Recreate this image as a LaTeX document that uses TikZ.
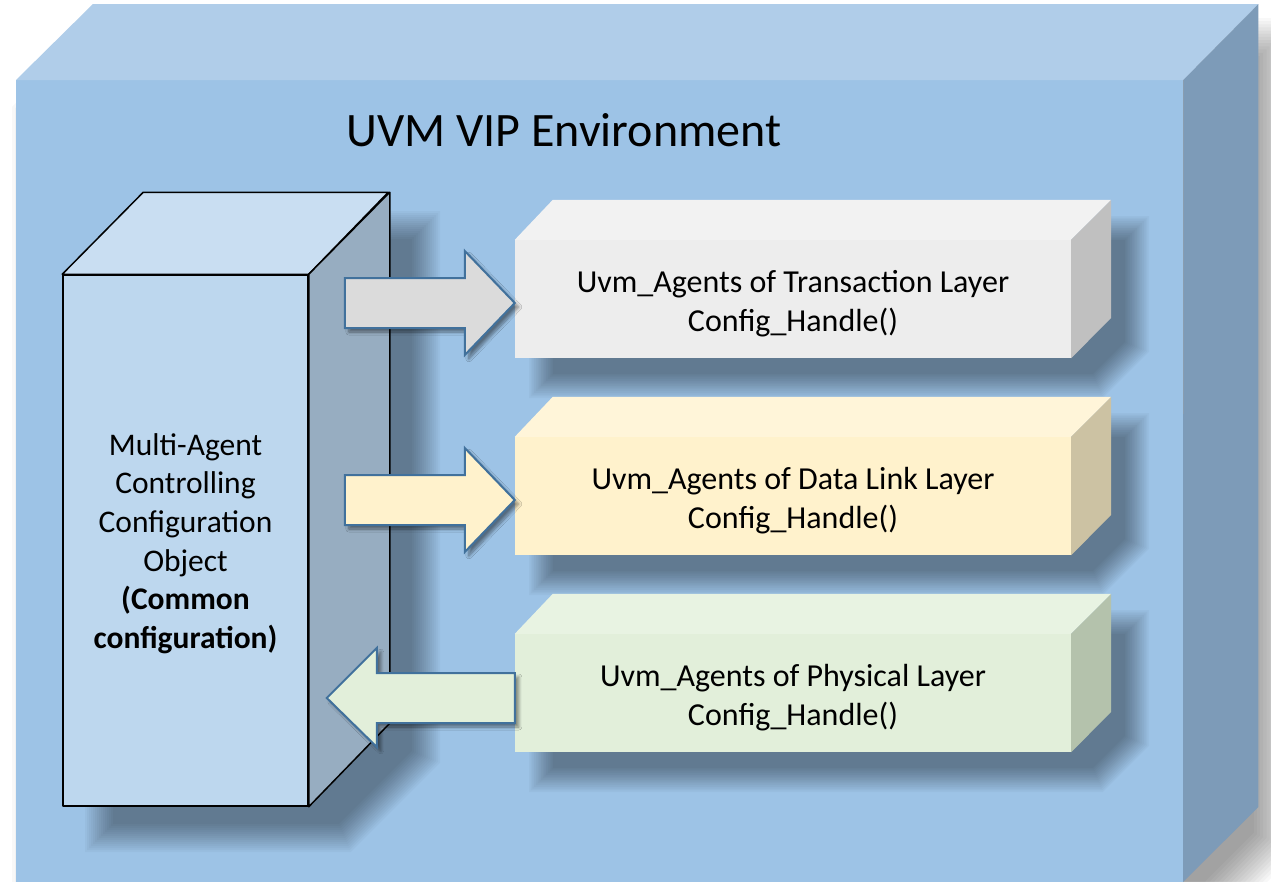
\documentclass[tikz,border=0pt]{standalone}
\usepackage{fontspec}
\setmainfont{Carlito}
\usetikzlibrary{shadows.blur,calc}
\definecolor{envtop}{HTML}{B0CDE9}
\definecolor{envfront}{HTML}{9DC3E6}
\definecolor{envside}{HTML}{7D9BB8}
\definecolor{macfront}{HTML}{BDD7EE}
\definecolor{mactop}{HTML}{C9DEF2}
\definecolor{macside}{HTML}{97ADC1}
\definecolor{aFront}{HTML}{EDEDED}
\definecolor{aTop}{HTML}{F2F2F2}
\definecolor{aSide}{HTML}{C0C0C0}
\definecolor{aArrow}{HTML}{DBDBDB}
\definecolor{bFront}{HTML}{FFF2CC}
\definecolor{bTop}{HTML}{FFF5D9}
\definecolor{bSide}{HTML}{CCC2A3}
\definecolor{cFront}{HTML}{E2EFDA}
\definecolor{cTop}{HTML}{E8F3E2}
\definecolor{cSide}{HTML}{B4C2AC}
\definecolor{arrowline}{HTML}{41719C}
% soft shadow of a bevelled silhouette: L T R B bevel dx dy blur
\newcommand\softshadow[8]{%
  \foreach \i in {0,...,14} {%
    \pgfmathsetmacro\ee{-(#8)/2+(#8)*\i/14}%
    \fill[black, fill opacity=0.026]
      ({#1+#6-\ee},{#2+#7+#5-0.414*\ee}) -- ({#1+#6+#5-0.414*\ee},{#2+#7-\ee}) --
      ({#3+#6+\ee},{#2+#7-\ee}) -- ({#3+#6+\ee},{#4+#7-#5+0.414*\ee}) --
      ({#3+#6-#5+0.414*\ee},{#4+#7+\ee}) -- ({#1+#6-\ee},{#4+#7+\ee}) -- cycle;
  }%
}
\tikzset{
  layerbox/.style={rectangle, inner sep=0pt, minimum width=556pt, minimum height=118pt,
    align=center, font=\fontsize{32}{39}\selectfont},
  blockarrow/.style={draw=arrowline, line width=2pt, line join=miter,
    blur shadow={shadow xshift=4pt, shadow yshift=-4pt, shadow blur radius=3pt, shadow blur steps=8, shadow opacity=45}},
  cubeline/.style={draw=black, line width=1.5pt, line join=round}
}
\begin{document}
\begin{tikzpicture}[x=1pt,y=-1pt]
\useasboundingbox (0,0) rectangle (1271,881);
\clip (0,0) rectangle (1271,881);
\fill[white] (0,0) rectangle (1271,881);

% outer environment cube
\softshadow{16}{4}{1258}{882}{76}{18}{36}{44}
\node[name=env, rectangle, fill=envfront, inner sep=0pt, minimum width=1167pt, minimum height=820pt, anchor=north west] at (16,80) {};
\fill[envtop] (env.north west) -- ++(77,-76) -- ($(env.north east)+(75,-76)$) -- (env.north east) -- cycle;
\fill[envside] (env.north east) -- ++(75,-76) -- ++(0,803) -- (1183,882) -- cycle;
\node[name=title, font=\fontsize{48}{57}\selectfont] at (564,130) {UVM VIP Environment};

% shadows of the inner objects
\softshadow{63}{193}{390}{806}{81}{36}{32}{28}
\softshadow{515}{200}{1111}{358}{39}{26}{28}{24}
\softshadow{515}{397}{1111}{555}{39}{26}{28}{24}
\softshadow{515}{594}{1111}{752}{39}{26}{28}{24}

% multi-agent configuration object
\node[name=mac, cubeline, fill=macfront, rectangle, inner sep=0pt, minimum width=245pt, minimum height=531pt] at (185.5,540.5) {};
\node[name=mactext, align=center, font=\fontsize{31.5}{38.6}\selectfont] at ($(mac.center)+(0,3)$)
  {Multi-Agent\\Controlling\\Configuration\\Object\\\textbf{(Common}\\\textbf{configuration)}};
\filldraw[cubeline, fill=mactop] (mac.north west) -- ++(81,-82) -- ++(245,0) -- (mac.north east) -- cycle;
\filldraw[cubeline, fill=macside] (mac.north east) -- ++(81,-82) -- ++(0,531) -- (mac.south east) -- cycle;

% layer boxes
\node[name=b1, layerbox, fill=aFront] at (793,299) {};
\node[name=b1text, layerbox, minimum height=0pt] at ($(b1.center)+(0,5)$) {Uvm\_Agents of Transaction Layer\\Config\_Handle()};
\fill[aTop] (b1.north west) -- ++(38,-40) -- ($(b1.north east)+(40,-40)$) -- (b1.north east) -- cycle;
\fill[aSide] (b1.north east) -- ++(40,-40) -- ++(0,118) -- (b1.south east) -- cycle;

\node[name=b2, layerbox, fill=bFront] at (793,496) {};
\node[name=b2text, layerbox, minimum height=0pt] at ($(b2.center)+(0,5)$) {Uvm\_Agents of Data Link Layer\\Config\_Handle()};
\fill[bTop] (b2.north west) -- ++(38,-40) -- ($(b2.north east)+(40,-40)$) -- (b2.north east) -- cycle;
\fill[bSide] (b2.north east) -- ++(40,-40) -- ++(0,118) -- (b2.south east) -- cycle;

\node[name=b3, layerbox, fill=cFront] at (793,693) {};
\node[name=b3text, layerbox, minimum height=0pt] at ($(b3.center)+(0,5)$) {Uvm\_Agents of Physical Layer\\Config\_Handle()};
\fill[cTop] (b3.north west) -- ++(38,-40) -- ($(b3.north east)+(40,-40)$) -- (b3.north east) -- cycle;
\fill[cSide] (b3.north east) -- ++(40,-40) -- ++(0,118) -- (b3.south east) -- cycle;

% block arrows
\coordinate (t1) at ($(b1.west)+(0,4)$);
\filldraw[blockarrow, fill=aArrow] (t1) -- ++(-50,-52) -- ++(0,27) -- ++(-120,0) -- ++(0,50) -- ++(120,0) -- ++(0,27) -- cycle;
\coordinate (t2) at ($(b2.west)+(0,4)$);
\filldraw[blockarrow, fill=bFront] (t2) -- ++(-50,-52) -- ++(0,27) -- ++(-120,0) -- ++(0,50) -- ++(120,0) -- ++(0,27) -- cycle;
\coordinate (t3) at ($(b3.west)+(0,-20)$);
\filldraw[blockarrow, fill=cFront] (t3) -- ++(-138,0) -- ++(0,-25) -- ++(-50,50) -- ++(50,49) -- ++(0,-24) -- ++(138,0) -- cycle;
\end{tikzpicture}
\end{document}
